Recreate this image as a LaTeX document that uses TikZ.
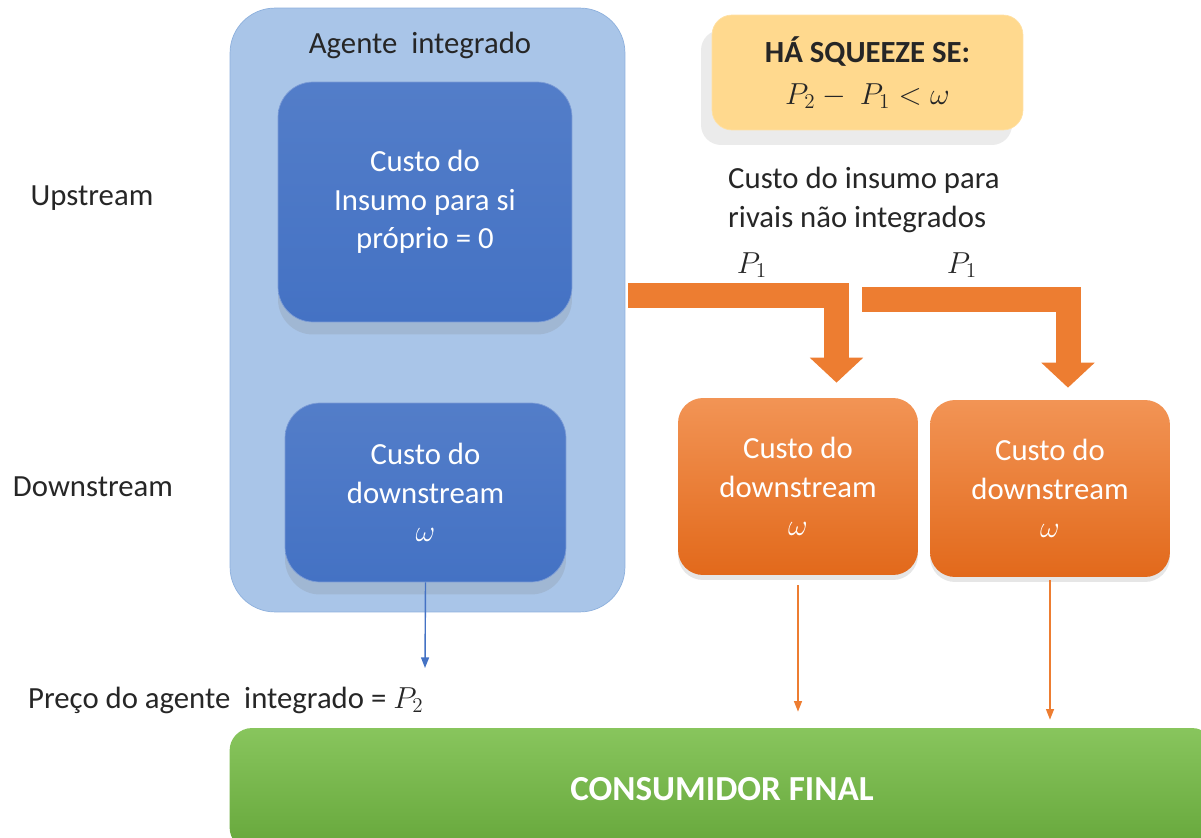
\documentclass[tikz,border=0pt]{standalone}
\usepackage{fontspec}
\setmainfont{Carlito}
\usetikzlibrary{arrows.meta,positioning,shadows}

\definecolor{agblue}{HTML}{4472C4}
\definecolor{cont}{HTML}{A9C5E8}
\definecolor{contline}{HTML}{8DB0DD}
\definecolor{orlight}{HTML}{F29455}
\definecolor{ordark}{HTML}{E2691B}
\definecolor{orarrow}{HTML}{ED7D31}
\definecolor{yel}{HTML}{FFD98E}
\definecolor{grlight}{HTML}{88C55D}
\definecolor{grdark}{HTML}{66A73B}

\begin{document}
\begin{tikzpicture}
[x=0.02cm, y=-0.02cm,
every node/.style={font=\fontsize{17.5}{22}\selectfont, text=black!85},
bluebox/.style={rounded corners=0.7cm, top color=agblue!92!white, bottom color=agblue, draw=agblue!70!white,
  text=white, align=center, drop shadow={opacity=0.2, shadow xshift=0pt, shadow yshift=-0.25cm}},
orangebox/.style={rounded corners=0.5cm, top color=orlight, bottom color=ordark, draw=none,
  text=white, align=center, drop shadow={opacity=0.2, shadow xshift=0pt, shadow yshift=-0.1cm}},
bigarrow/.style={draw=orarrow, line width=0.5cm, -{Triangle[width=1.04cm,length=0.5cm]}},
thinarrow/.style={line width=0.8pt, -{Triangle[width=4.5pt,length=6pt]}}]
\useasboundingbox (0,0) rectangle (1201,838);

% integrated agent
\node (cont) [rounded corners=0.9cm, fill=cont, draw=contline, minimum width=7.9cm, minimum height=12.08cm]
  at (427.5,310) {};
\node (ctitle) at (420,45) {Agente~ integrado};
\node (up) [bluebox, minimum width=5.88cm, minimum height=4.8cm] at (425,202)
  {Custo do\\Insumo para si\\próprio = 0};
\node (down) [bluebox, minimum width=5.62cm, minimum height=3.58cm] at (425.5,492.5)
  {Custo do\\downstream\\$\omega$};

\node (upl) at (92,198) {Upstream};
\node (downl) at (93,487) {Downstream};

% condition
\node (cond) [rounded corners=0.4cm, fill=yel, draw=yel!80!white, align=center,
  minimum width=6.22cm, minimum height=2.3cm,
  drop shadow={opacity=0.16, shadow xshift=-0.22cm, shadow yshift=-0.3cm}] at (867.5,72.5)
  {\textbf{HÁ SQUEEZE SE:}\\[2pt]{\fontsize{18.5}{22}\selectfont$P_2 -\ P_1 < \omega$}};

\node (rivl) [align=left] at (864,200) {Custo do insumo para\\rivais não integrados};
\node (p1a) at (752,265) {$P_1$};
\node (p1b) at (962,265) {$P_1$};

% rivals
\node (o1) [orangebox, minimum width=4.8cm, minimum height=3.54cm] at (798,486.5)
  {Custo do\\downstream\\$\omega$};
\node (o2) [orangebox, minimum width=4.8cm, minimum height=3.54cm] at (1050,488.5)
  {Custo do\\downstream\\$\omega$};

\node (green) [rounded corners=0.45cm, top color=grlight, bottom color=grdark, draw=none,
  minimum width=19.7cm, minimum height=2.44cm, text=white,
  font=\fontsize{20}{22}\selectfont\bfseries] at (722,789) {CONSUMIDOR FINAL};

\coordinate (s1) at (628,295.5);
\coordinate (s2) at (862,299.5);
\draw[bigarrow, shorten >=0.3cm] (s1) -| ([xshift=0.77cm]o1.north);
\draw[bigarrow, shorten >=0.24cm] (s2) -| ([xshift=0.36cm]o2.north);

\node (preco) [anchor=west] at (22,700) {Preço do agente~ integrado = $P_2$};
\coordinate (pe) at (425,668);
\draw[thinarrow, agblue] (down.south) -- (pe);
\draw[thinarrow, orarrow, shorten <=0.2cm, shorten >=0.32cm] (o1.south) -- (o1.south |- green.north);
\draw[thinarrow, orarrow, shorten <=0.06cm, shorten >=0.16cm] (o2.south) -- (o2.south |- green.north);
\end{tikzpicture}
\end{document}
